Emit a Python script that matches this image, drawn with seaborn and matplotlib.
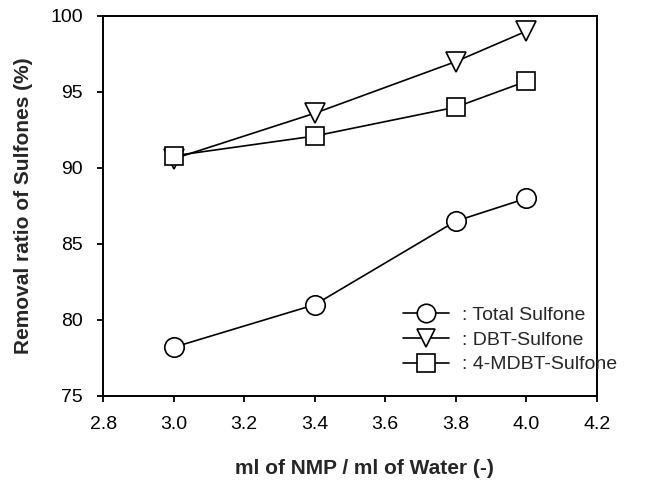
import matplotlib
matplotlib.use("Agg")
import matplotlib.pyplot as plt
import seaborn as sns
import pandas as pd

x_vals = [3.0, 3.4, 3.8, 4.0]
total_sulfone = [78.2, 81.0, 86.5, 88.0]
dbt_sulfone = [90.6, 93.6, 97.0, 99.0]
mdbt_sulfone = [90.8, 92.1, 94.0, 95.7]
labels = [": Total Sulfone", ": DBT-Sulfone", ": 4-MDBT-Sulfone"]
markers = ["o", "v", "s"]
msizes = [14, 14, 13]
xticks = [2.8, 3.0, 3.2, 3.4, 3.6, 3.8, 4.0, 4.2]
yticks = [75, 80, 85, 90, 95, 100]

sns.set_style("ticks")
plt.rcParams['font.family'] = ['Liberation Sans', 'DejaVu Sans']

fig = plt.figure(figsize=(6.61, 4.84), dpi=100)
ax = fig.add_axes([0.156, 0.182, 0.747, 0.785])

for vals, lab, mk, ms in zip([total_sulfone, dbt_sulfone, mdbt_sulfone], labels, markers, msizes):
    df = pd.DataFrame({"x": x_vals, "y": vals})
    sns.lineplot(data=df, x="x", y="y", ax=ax, color="black", linewidth=1.2,
                 marker=mk, markersize=ms, markerfacecolor="white",
                 markeredgecolor="black", markeredgewidth=1.2, label=lab)

ax.set_xlim(2.8, 4.2)
ax.set_ylim(75, 100)
ax.set_xticks(xticks)
ax.set_xticklabels([f"{v:.1f}" for v in xticks])
ax.set_yticks(yticks)
ax.tick_params(direction="out", length=4.5, width=1.3, labelsize=14, colors="black", pad=10)
for s in ax.spines.values():
    s.set_linewidth(1.4)
    s.set_color("black")
ax.set_xlabel("ml of NMP / ml of Water (-)", fontsize=15, fontweight="bold")
ax.set_ylabel("Removal ratio of Sulfones (%)", fontsize=15, fontweight="bold")
ax.xaxis.set_label_coords(0.53, -0.166)
ax.yaxis.set_label_coords(-0.142, 0.5)

leg = ax.legend(loc="upper left", frameon=False, fontsize=14, handlelength=2.4,
                handletextpad=0.65, labelspacing=0.36, borderpad=0, borderaxespad=0,
                markerscale=0.95, bbox_to_anchor=(0.607, 0.235))

fig.savefig("out.png", dpi=100)
